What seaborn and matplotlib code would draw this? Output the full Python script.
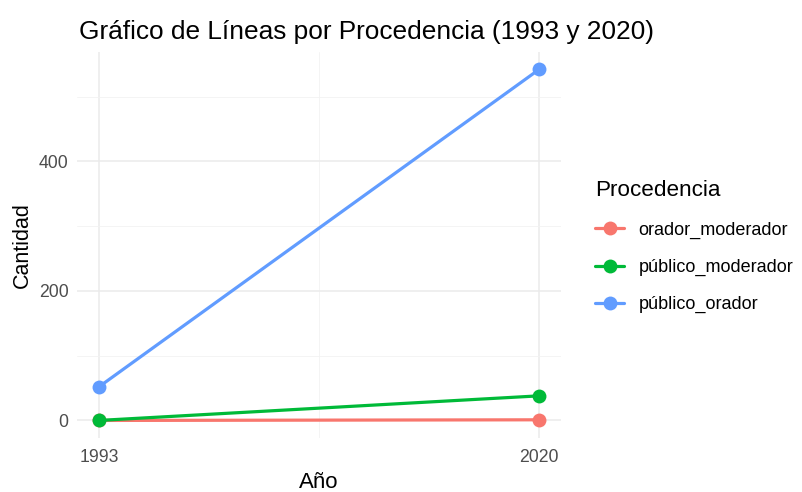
import pandas as pd
import seaborn as sns
import matplotlib.pyplot as plt

# Data
anios = [1993, 2020]
procedencias = ['orador_moderador', 'público_moderador', 'público_orador']
orador_moderador = [0, 1]
publico_moderador = [0, 38]
publico_orador = [52, 542]
colores = ['#F8766D', '#00BA38', '#619CFF']

df = pd.DataFrame({
    'Año': anios * 3,
    'Cantidad': orador_moderador + publico_moderador + publico_orador,
    'Procedencia': [p for p in procedencias for _ in anios],
})

sns.set_theme(style='whitegrid')
plt.rcParams['font.family'] = ['Liberation Sans', 'DejaVu Sans']

fig = plt.figure(figsize=(8.02, 4.92), dpi=100)
ax = fig.add_axes([77 / 802, 1 - 438 / 492, (561 - 77) / 802, (438 - 52) / 492])

sns.lineplot(data=df, x='Año', y='Cantidad', hue='Procedencia',
             palette=colores, marker='o', markersize=10, markeredgewidth=0,
             linewidth=2.3, ax=ax)

# ggplot-like minimal theme
ax.set_facecolor('white')
for s in ax.spines.values():
    s.set_visible(False)
ax.set_xlim(1993 - 1.35, 2020 + 1.35)
ax.set_ylim(-27.1, 569)
ax.set_xticks(anios)
ax.set_yticks([0, 200, 400])
ax.set_xticks([2006.5], minor=True)
ax.set_yticks([100, 300, 500], minor=True)
ax.grid(which='major', color='#EBEBEB', linewidth=1.1)
ax.grid(which='minor', color='#F2F2F2', linewidth=0.6)
ax.tick_params(axis='both', which='both', length=0, labelsize=12.7,
               labelcolor='#4D4D4D')
ax.tick_params(axis='x', pad=8)
ax.tick_params(axis='y', pad=6)

ax.set_xlabel('Año', fontsize=16, color='black')
ax.set_ylabel('Cantidad', fontsize=15.5, color='black')
ax.xaxis.set_label_coords(0.5, (438 - 472) / 386)
ax.yaxis.set_label_coords(-(77 - 33) / 484, 0.5)
fig.text(79 / 802, 1 - 32 / 492, 'Gráfico de Líneas por Procedencia (1993 y 2020)',
         fontsize=18.9, ha='left', va='center', color='black')

leg = ax.legend(title='Procedencia', loc='upper left',
                bbox_to_anchor=(579 / 802, 1 - 164 / 492), bbox_transform=fig.transFigure,
                frameon=False, fontsize=13, title_fontsize=16.2,
                labelspacing=1.12, handlelength=1.6, handletextpad=0.8)
leg._legend_box.align = 'left'
leg.get_title().set_color('black')
for t in leg.get_texts():
    t.set_color('black')

fig.savefig('out.png', dpi=100)
